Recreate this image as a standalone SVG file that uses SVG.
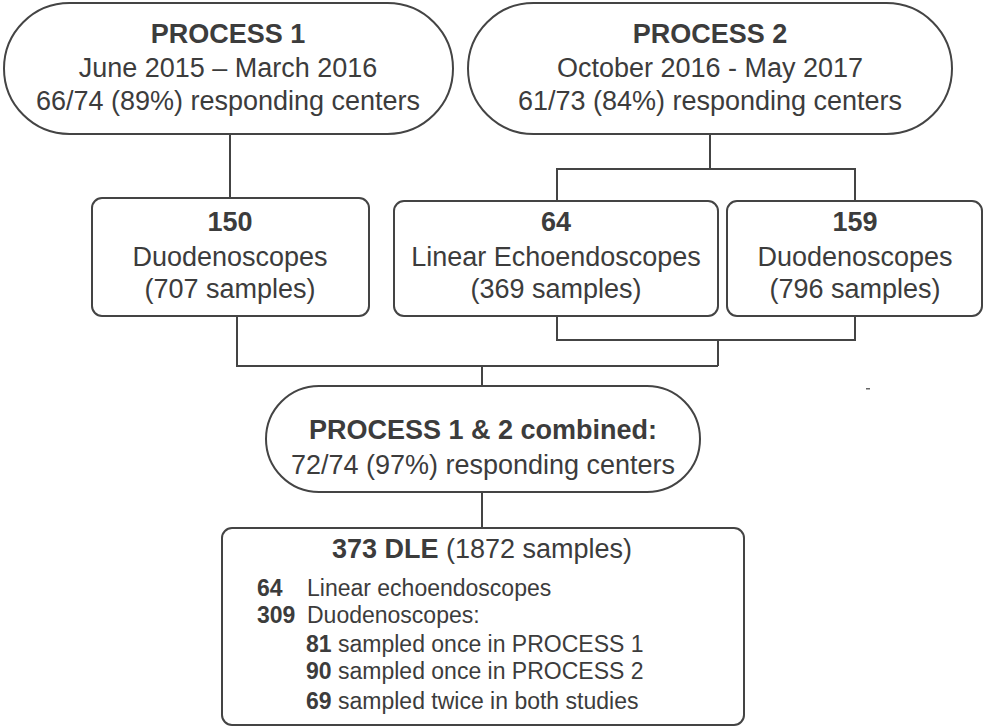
<svg xmlns="http://www.w3.org/2000/svg" width="984" height="727" viewBox="0 0 984 727">
<style>
.s{fill:#fff;stroke:#444;stroke-width:2}
.c{fill:none;stroke:#444;stroke-width:2}
text{font-family:"Liberation Sans",Arial,sans-serif;fill:#3c3c3c;font-size:27px}
.m{text-anchor:middle}
.b{font-weight:bold}
.sm{font-size:23px}
</style>
<rect width="984" height="727" fill="#fff"/>
<g id="connectors">
<path class="c" d="M230 134V198"/>
<path class="c" d="M710 134V169M557 201V169H855V201"/>
<path class="c" d="M557 316V340H855V316M718 340V366"/>
<path class="c" d="M237 316V366H718M482 366V386"/>
<path class="c" d="M482 492V528"/>
</g>
<rect x="866" y="388" width="4" height="1.5" fill="#666"/>
<g id="process1">
<rect class="s" x="4" y="3" width="449" height="131" rx="65.5"/>
<text class="m b" x="228" y="43">PROCESS 1</text>
<text class="m" x="228" y="77">June 2015 – March 2016</text>
<text class="m" x="228" y="110">66/74 (89%) responding centers</text>
</g>
<g id="process2">
<rect class="s" x="468" y="3" width="484" height="131" rx="65.5"/>
<text class="m b" x="710" y="43">PROCESS 2</text>
<text class="m" x="710" y="77">October 2016 -  May 2017</text>
<text class="m" x="710" y="110">61/73 (84%) responding centers</text>
</g>
<g id="duo150">
<rect class="s" x="92" y="198" width="277" height="118" rx="10"/>
<text class="m b" x="230" y="231">150</text>
<text class="m" x="230" y="266">Duodenoscopes</text>
<text class="m" x="230" y="298">(707 samples)</text>
</g>
<g id="lin64">
<rect class="s" x="394" y="201" width="324" height="115" rx="10"/>
<text class="m b" x="556" y="231">64</text>
<text class="m" x="556" y="266">Linear Echoendoscopes</text>
<text class="m" x="556" y="298">(369 samples)</text>
</g>
<g id="duo159">
<rect class="s" x="727" y="201" width="255" height="115" rx="10"/>
<text class="m b" x="855" y="231">159</text>
<text class="m" x="855" y="266">Duodenoscopes</text>
<text class="m" x="855" y="298">(796 samples)</text>
</g>
<g id="combined">
<rect class="s" x="266" y="386" width="434" height="106" rx="53"/>
<text class="m b" x="483" y="439">PROCESS 1 &amp; 2 combined:</text>
<text class="m" x="483" y="474">72/74 (97%) responding centers</text>
</g>
<g id="dle">
<rect class="s" x="222" y="528" width="522" height="197" rx="10"/>
<text class="m" x="482" y="558"><tspan class="b">373 DLE</tspan> (1872 samples)</text>
<text class="sm b" x="257" y="596">64</text>
<text class="sm" x="307" y="596">Linear echoendoscopes</text>
<text class="sm b" x="257" y="623">309</text>
<text class="sm" x="307" y="623">Duodenoscopes:</text>
<text class="sm" x="306" y="652"><tspan class="b">81</tspan> sampled once in PROCESS 1</text>
<text class="sm" x="306" y="679"><tspan class="b">90</tspan> sampled once in PROCESS 2</text>
<text class="sm" x="306" y="709"><tspan class="b">69</tspan> sampled twice in both studies</text>
</g>
</svg>
